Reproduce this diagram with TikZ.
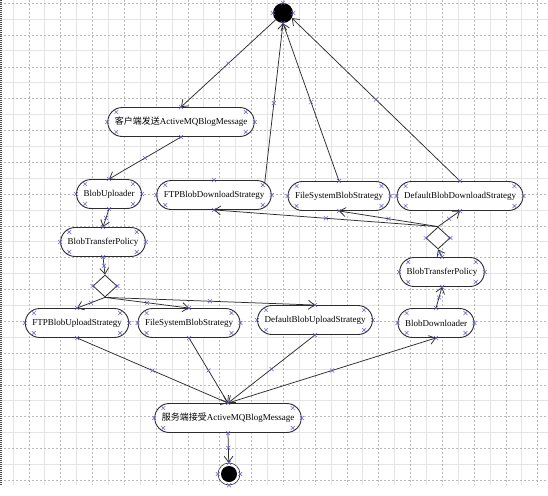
\documentclass[tikz,border=0pt]{standalone}
\usepackage{fontspec}
\setmainfont{Liberation Serif}
\newfontfamily\cjk{Noto Sans CJK SC}
\usetikzlibrary{shapes.geometric,arrows.meta,calc,decorations.markings}
\definecolor{hcol}{RGB}{95,95,215}
\definecolor{lcol}{RGB}{45,45,45}
\definecolor{gsol}{RGB}{228,228,228}
\definecolor{gdash}{RGB}{185,185,185}
\tikzset{
 hx/.pic={\draw[hcol,line width=0.5pt,-] (-2pt,-2pt)--(2pt,2pt) (-2pt,2pt)--(2pt,-2pt);},
 act/.style={draw=lcol, fill=white, rounded corners=14.5pt, minimum height=29pt, inner xsep=7pt, inner ysep=2pt, line width=0.9pt, font=\fontsize{9}{11}\selectfont},
 dec/.style={diamond, draw=lcol, fill=white, minimum width=24pt, minimum height=22pt, inner sep=0pt, line width=0.8pt},
 flow/.style={draw=lcol, line width=0.75pt, -{Straight Barb[length=6pt,width=9pt]}, postaction={decorate},
   decoration={markings, mark=at position 0.5 with {\pgftransformresetnontranslations\draw[hcol,line width=0.5pt,-] (-2pt,-2pt)--(2pt,2pt) (-2pt,2pt)--(2pt,-2pt);}}},
 gridsolid/.style={draw=gsol, line width=1pt},
 griddash/.style={draw=gdash, line width=0.5pt, dash pattern=on 2pt off 2pt},
}
\begin{document}
\begin{tikzpicture}[x=1pt,y=-1pt]
\useasboundingbox (0,0) rectangle (548,495);
\fill[white] (0,0) rectangle (548,495);
% grid
\foreach \i in {0,...,17} \draw[gridsolid] ({13+31.8*\i},0) -- ++(0,485);
\foreach \i in {0,...,14} \draw[gridsolid] (0,{19.2+31.8*\i}) -- ++(548,0);
\foreach \i in {0,...,16} \draw[griddash] ({28.9+31.8*\i},0) -- ++(0,485);
\foreach \i in {0,...,15} \draw[griddash] (0,{3.3+31.8*\i}) -- ++(548,0);
\draw[black!70, line width=1.5pt, dash pattern=on 1pt off 1pt] (0.75,0) -- (0.75,485);

% nodes
\node[circle, fill=black, minimum size=20pt, inner sep=0pt] (start) at (283,13) {};
\node[act] (client) at (181,122) {{\cjk 客户端发送}ActiveMQBlogMessage};
\node[act] (up) at (109,194) {BlobUploader};
\node[act] (ftpd) at (214,195) {FTPBlobDownloadStrategy};
\node[act] (fsd) at (339,196) {FileSystemBlobStrategy};
\node[act] (defd) at (460,196) {DefaultBlobDownloadStrategy};
\node[act] (btpl) at (103,242) {BlobTransferPolicy};
\node[dec] (decl) at (105,286) {};
\node[act] (ftpu) at (77,323) {FTPBlobUploadStrategy};
\node[act] (fsu) at (189,323) {FileSystemBlobStrategy};
\node[act] (defu) at (315,320) {DefaultBlobUploadStrategy};
\node[act] (down) at (436,323) {BlobDownloader};
\node[act] (btpr) at (442,272) {BlobTransferPolicy};
\node[dec] (decr) at (438,238) {};
\node[act] (server) at (228,418) {{\cjk 服务端接受}ActiveMQBlogMessage};
\node[circle, draw=lcol, fill=white, line width=0.6pt, minimum size=22pt, inner sep=0pt] (end) at (229,474) {};
\fill[black] (end.center) circle (8);

% connectors
\draw[flow] (start) -- (client.north);
\draw[flow] (client.south) -- (up.north);
\draw[flow] (up.south) -- (btpl.north);
\draw[flow] (btpl.south) -- (decl.north);
\draw[flow] (decl.south) -- (ftpu.north);
\draw[flow] (decl.south) -- (fsu.north);
\draw[flow] (decl.south) -- (defu.north);
\draw[flow] (ftpu.south) -- (server.north);
\draw[flow] (fsu.south) -- (server.north);
\draw[flow] (defu.south) -- (server.north);
\draw[flow] (server.north) -- (down.south);
\draw[flow] (server.south) -- (end);
\draw[flow] (down.north) -- (btpr.south);
\draw[flow] (btpr.north) -- (decr.south);
\draw[flow] (decr.north) -- (ftpd.south);
\draw[flow] (decr.north) -- (fsd.south);
\draw[flow] (decr.north) -- (defd.south);
\draw[flow] ($(ftpd.north east)+(-7,3)$) -- (start.south);
\draw[flow] (fsd.north) -- (start.south);
\draw[flow] (defd.north) -- (start.-30);

% handle marks
\foreach \n in {client,up,ftpd,fsd,defd,btpl,ftpu,fsu,defu,down,btpr,server}{
  \pic at (\n.west) {hx}; \pic at (\n.east) {hx};
  \pic at (\n.north) {hx}; \pic at (\n.south) {hx};
  \pic at ($(\n.north west)+(9,5)$) {hx}; \pic at ($(\n.north east)+(-9,5)$) {hx};
  \pic at ($(\n.south west)+(9,-5)$) {hx}; \pic at ($(\n.south east)+(-9,-5)$) {hx};
}
\foreach \n in {decl,decr}{ \pic at (\n.west) {hx}; \pic at (\n.east) {hx}; }
\foreach \n in {start,end}{
  \pic at (\n.west) {hx}; \pic at (\n.east) {hx};
  \pic at (\n.north) {hx}; \pic at (\n.south) {hx};
}
\end{tikzpicture}
\end{document}
